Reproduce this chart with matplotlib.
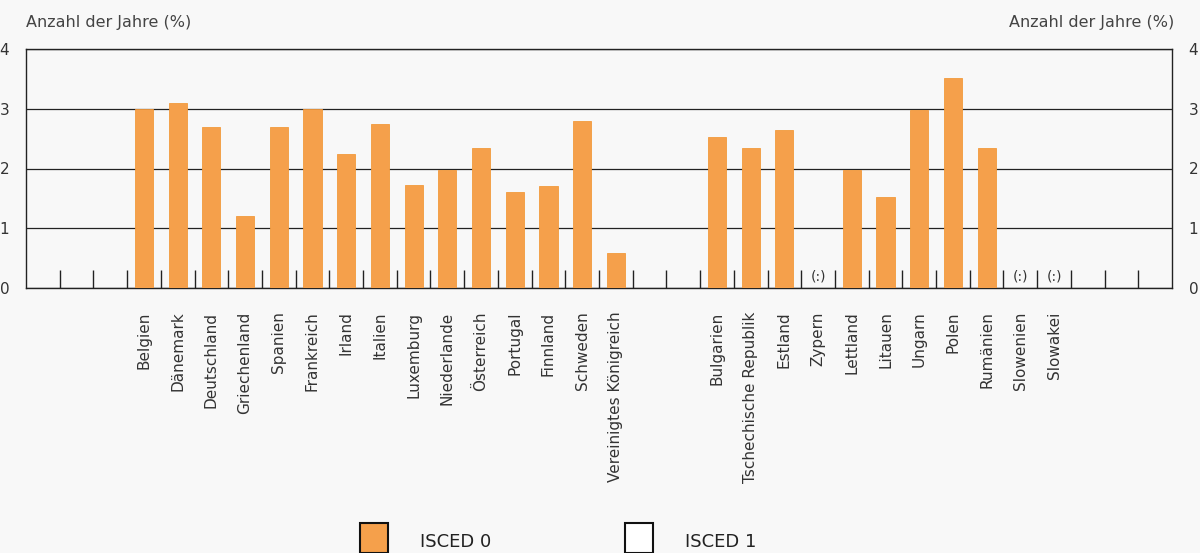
import matplotlib.pyplot as plt
from matplotlib.patches import Rectangle

# Werte aus der Grafik (None = keine Daten "(:)")
countries = ['', '', '',
             'Belgien', 'Dänemark', 'Deutschland', 'Griechenland', 'Spanien', 'Frankreich',
             'Irland', 'Italien', 'Luxemburg', 'Niederlande', 'Österreich', 'Portugal',
             'Finnland', 'Schweden', 'Vereinigtes Königreich',
             '', '',
             'Bulgarien', 'Tschechische Republik', 'Estland', 'Zypern', 'Lettland',
             'Litauen', 'Ungarn', 'Polen', 'Rumänien', 'Slowenien', 'Slowakei',
             '', '', '']
isced0 = [0, 0, 0,
          3.0, 3.1, 2.7, 1.2, 2.7, 3.0,
          2.25, 2.75, 1.73, 1.97, 2.35, 1.6,
          1.7, 2.8, 0.58,
          0, 0,
          2.52, 2.35, 2.65, None, 1.98,
          1.53, 2.98, 3.52, 2.35, None, None,
          0, 0, 0]

orange = '#f5a04b'
bg = '#f8f8f8'

fig = plt.figure(figsize=(12, 5.53), dpi=100, facecolor=bg)
ax = fig.add_axes([26 / 1200, 1 - 288 / 553, 1146 / 1200, 239 / 553])
ax.set_facecolor(bg)

n = len(countries)
x = list(range(n))
heights = [v if v is not None else 0 for v in isced0]
ax.bar(x, heights, width=0.54, color=orange, edgecolor='#f29a3c', linewidth=0.6, zorder=3)

for i, v in enumerate(isced0):
    if v is None:
        ax.text(i, 0.2, '(:)', ha='center', va='center', fontsize=10, color='#333333', zorder=4)

ax.set_xlim(-0.5, n - 0.5)
ax.set_ylim(0, 4)
ax.set_yticks([0, 1, 2, 3, 4])
ax.grid(axis='y', color='#222222', linewidth=0.9, zorder=1)

ax.set_xticks(x)
ax.set_xticklabels(countries, rotation=90, fontsize=11, color='#333333', va='top')
ax.set_xticks([i + 0.5 for i in range(n - 1)], minor=True)
ax.tick_params(axis='x', which='major', length=0, pad=17)
ax.tick_params(axis='x', which='minor', direction='in', length=13, width=1, color='#222222')
ax.tick_params(axis='y', which='major', length=0, labelsize=11, labelcolor='#333333',
               left=True, right=True, labelleft=True, labelright=True, pad=12)

for s in ax.spines.values():
    s.set_color('#222222')
    s.set_linewidth(1)

fig.text(26 / 1200, 1 - 22 / 553, 'Anzahl der Jahre (%)', fontsize=11.5, color='#444444',
         ha='left', va='center')
fig.text(1174 / 1200, 1 - 22 / 553, 'Anzahl der Jahre (%)', fontsize=11.5, color='#444444',
         ha='right', va='center')

# Legende
fig.patches.append(Rectangle((360 / 1200, 0), 28 / 1200, 30 / 553, transform=fig.transFigure,
                             facecolor=orange, edgecolor='#111111', linewidth=1.5))
fig.text(420 / 1200, 11 / 553, 'ISCED 0', fontsize=13, color='#222222', ha='left', va='center')
fig.patches.append(Rectangle((625 / 1200, 0), 28 / 1200, 30 / 553, transform=fig.transFigure,
                             facecolor='white', edgecolor='#111111', linewidth=1.5))
fig.text(685 / 1200, 11 / 553, 'ISCED 1', fontsize=13, color='#222222', ha='left', va='center')

fig.savefig('out.png', dpi=100, facecolor=bg)
